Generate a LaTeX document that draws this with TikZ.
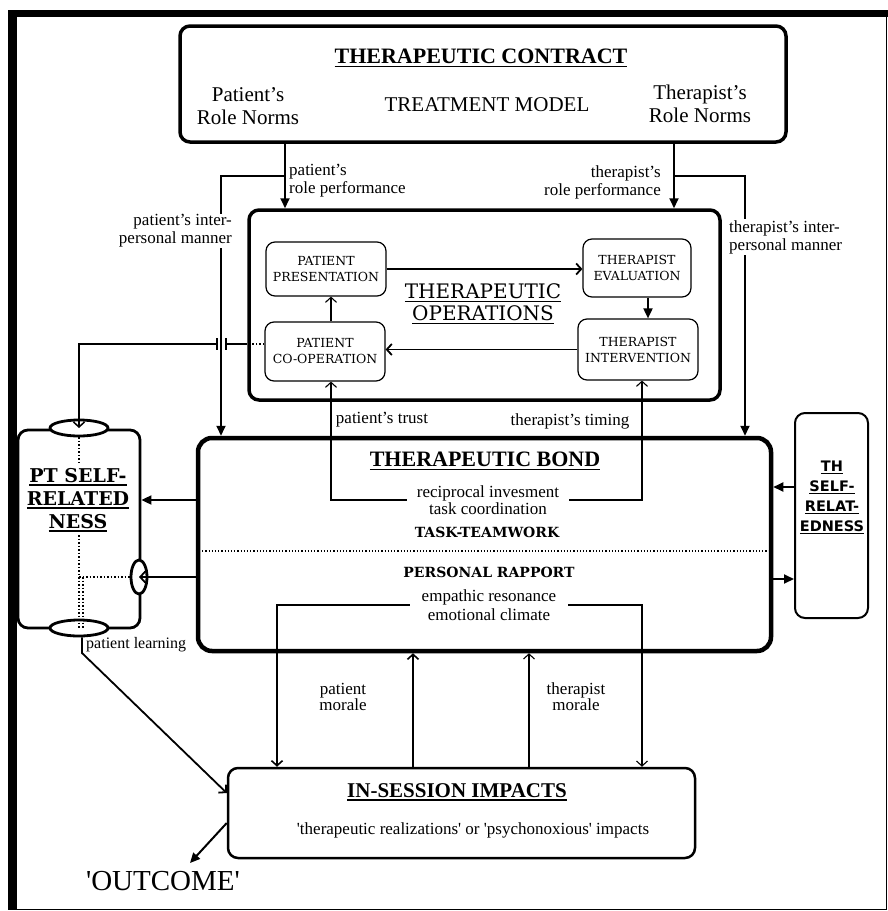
\documentclass[tikz,border=0pt]{standalone}
\usepackage{fontspec}
\setmainfont{Liberation Serif}
\newfontfamily\slab{DejaVu Serif}
\newfontfamily\sansb{DejaVu Sans}
\usetikzlibrary{arrows.meta,shapes.geometric,calc}
\newcommand\ulbar[1]{\setbox0=\hbox{#1}\rlap{\rule[-0.17em]{\wd0}{0.07em}}\box0}
\newcommand\fs[2]{\fontsize{#1}{#2}\selectfont}
\tikzset{
  bigbox/.style={draw, rounded corners=10pt, line width=3.5pt},
  opbox/.style={draw, rounded corners=9pt, line width=1.2pt, align=center, font=\slab\fs{12.5}{16}, inner sep=0pt},
  lab/.style={align=center, font=\fs{17}{18}, inner sep=1pt},
  tri/.style={-{Triangle[length=10pt,width=9pt]}, line width=1.8pt},
  vee/.style={-{Straight Barb[length=5pt,width=11pt]}, line width=1.8pt},
  lite/.style={line width=1.1pt},
  oval/.style={ellipse, draw, fill=white, line width=2.8pt, inner sep=0pt}
}
\begin{document}
\begin{tikzpicture}[x=1pt,y=-1pt]
\useasboundingbox (0,0) rectangle (888,911);
% frame
\fill (8,10) rectangle (888,17);
\fill (8,10) rectangle (17,910);
\draw[line width=1.5pt] (886.5,17) -- (886.5,909.5) -- (17,909.5);

% main boxes
\node[bigbox, minimum width=606, minimum height=116] (contract) at (483,84) {};
\node[bigbox, minimum width=471, minimum height=190] (ops) at (484.5,305) {};
\node[bigbox, line width=4.5pt, rounded corners=14pt, minimum width=573, minimum height=213] (bond) at (484.5,544.5) {};
\node[bigbox, line width=2.5pt, minimum width=467, minimum height=90] (imp) at (461.5,813) {};
\node[bigbox, line width=2.8pt, minimum width=122, minimum height=198] (ptbox) at (79,529) {};
\node[bigbox, line width=2pt, minimum width=73, minimum height=205] (thbox) at (831.5,515.5) {};

% operations
\node[opbox, minimum width=120, minimum height=54] (pres) at (326,269) {PATIENT\\PRESENTATION};
\node[opbox, minimum width=108, minimum height=58] (eval) at (637,268) {THERAPIST\\EVALUATION};
\node[opbox, minimum width=120, minimum height=59] (coop) at (325,351.5) {PATIENT\\CO-OPERATION};
\node[opbox, minimum width=120, minimum height=61] (interv) at (638,349.5) {THERAPIST\\INTERVENTION};

% ovals on PT box
\node[oval, minimum width=58, minimum height=16] (ptop) at (79,428) {};
\node[oval, minimum width=58, minimum height=16] (pbot) at (79,628) {};
\node[oval, minimum width=16, minimum height=34] (pright) at (139,577) {};

% texts
\node[font=\bfseries\fs{22}{26}] (ctitle) at (481,58) {\ulbar{THERAPEUTIC CONTRACT}};
\node[align=center, font=\fs{21}{23}] (pnorm) at (248,106) {Patient's\\Role Norms};
\node[font=\fs{21}{23}] (tmodel) at (487,105) {TREATMENT MODEL};
\node[align=center, font=\fs{21}{23}] (tnorm) at (700,104) {Therapist's\\Role Norms};
\node[align=center, font=\slab\fs{20}{22}] (otitle) at (483,304) {\ulbar{THERAPEUTIC}\\\ulbar{OPERATIONS}};
\node[font=\bfseries\fs{22}{26}] (btitle) at (485,461) {\ulbar{THERAPEUTIC BOND}};
\node[lab, inner xsep=10pt, font=\fs{17}{16.5}] (recip) at (488,500) {reciprocal invesment\\task coordination};
\node[font=\slab\bfseries\fs{14}{16}] (task) at (487,532) {TASK-TEAMWORK};
\node[font=\slab\bfseries\fs{14}{16}] (rapp) at (489,572) {PERSONAL RAPPORT};
\node[lab, inner xsep=12pt, font=\fs{17}{19}] (emp) at (489,605) {empathic resonance\\emotional climate};
\node[font=\bfseries\fs{21}{24}] (ititle) at (457,792) {\ulbar{IN-SESSION IMPACTS}};
\node[font=\fs{17}{20}] (iline) at (473,830) {\textquotesingle therapeutic realizations\textquotesingle{} or \textquotesingle psychonoxious\textquotesingle{} impacts};
\node[font=\fs{29}{32}] (outc) at (163,881) {\textquotesingle OUTCOME\textquotesingle};
\node[align=center, font=\slab\bfseries\fs{19}{23}] (pttext) at (78,500) {\ulbar{PT SELF-}\\\ulbar{RELATED}\\\ulbar{NESS}};
\node[align=center, font=\sansb\bfseries\fs{14.5}{20}] (thtext) at (832,497) {\ulbar{TH}\\\ulbar{SELF-}\\\ulbar{RELAT-}\\\ulbar{EDNESS}};

% helper points
\coordinate (pjoin) at (285,176);
\coordinate (tjoin) at (674,176);
\coordinate (pim) at (221,0);
\coordinate (tim) at (745,0);
\coordinate (ei) at (648,0);
\coordinate (cp) at (331,0);
\coordinate (it) at (642,0);
\coordinate (cl) at (0,344);
\coordinate (gapr) at (226,344);
\coordinate (gapl) at (217,344);
\coordinate (th1) at (0,487);
\coordinate (th2) at (0,579);
\coordinate (dv) at (0,551);
\coordinate (e1) at (277,0);
\coordinate (m1) at (413,0);
\coordinate (m2) at (529,0);
\coordinate (lrn) at (82,653);
\coordinate (il) at (0,793);
\coordinate (oc) at (0,823);
\coordinate (oarr) at (190,863);

% contract to operations and bond
\draw[tri] (contract.south -| pjoin) -- (ops.north -| pjoin);
\draw[tri] (contract.south -| tjoin) -- (ops.north -| tjoin);
\draw[tri] (pjoin) -| (bond.north -| pim);
\draw[tri] (tjoin) -| (bond.north -| tim);

% operations cycle
\draw[vee] (pres.east) -- (pres.east -| eval.west);
\draw[tri] (eval.south -| ei) -- (interv.north -| ei);
\draw[vee] (interv.west) -- (interv.west -| coop.east);
\draw[vee, lite] (coop.north -| cp) -- (pres.south -| cp);

% co-operation to PT self-relatedness
\draw[dotted, line width=1.5pt] (coop.west |- cl) -- (ops.west |- cl);
\draw[line width=1.5pt] (ops.west |- cl) -- (gapr);
\draw[line width=1.5pt] ($(gapr)+(0,-6)$) -- ($(gapr)+(0,6)$);
\draw[line width=1.5pt] ($(gapl)+(0,-6)$) -- ($(gapl)+(0,6)$);
\draw[vee, line width=1.5pt] (gapl) -| (ptop.center);

% bond to operations
\draw[vee, lite] (recip.west) -| (coop.south -| cp);
\draw[vee, lite] (recip.east) -| (interv.south -| it);

% bond to self-relatedness
\draw[tri] (bond.west |- recip) -- (ptbox.east |- recip);
\draw[vee] (bond.west |- pright) -- (pright.center);
\draw[tri] (thbox.west |- th1) -- (bond.east |- th1);
\draw[tri] (bond.east |- th2) -- (thbox.west |- th2);
\draw[dotted, line width=1.2pt] (bond.west |- dv) -- (bond.east |- dv);

% dotted lines in PT box
\draw[dotted, line width=1.5pt] (ptop.south) -- (pttext.north -| ptop.south);
\draw[dotted, line width=1.5pt] (pttext.south -| pbot) -- (pbot.center);
\draw[dotted, line width=1.5pt] (pbot |- pright) -- (pright.west);
\draw[dotted, line width=1.5pt] ($(pbot |- pright)+(4,0)$) -- ($(pbot.center)+(4,0)$);

% bond and impacts
\draw[vee, line width=1.6pt] (emp.west) -| (imp.north -| e1);
\draw[vee, lite] (emp.east) -| (imp.north -| it);
\draw[vee, line width=1.6pt] (imp.north -| m1) -- (bond.south -| m1);
\draw[vee, lite] (imp.north -| m2) -- (bond.south -| m2);
\draw[vee] (pbot.south -| lrn) -- (lrn) -- (imp.west |- il);
\draw[tri, line width=2pt] (imp.west |- oc) -- (oarr);

% labels
\node[lab, anchor=west, align=left] (prp) at (288,181) {patient's\\role performance};
\node[lab, anchor=east, align=right] (trp) at (662,182) {therapist's\\role performance};
\node[lab, anchor=east, align=right, fill=white] (pipm) at (233,231) {patient's inter-\\personal manner};
\node[lab, anchor=west, align=left, fill=white] (tipm) at (728,237) {therapist's inter-\\personal manner};
\node[lab] (trust) at (382,420) {patient's trust};
\node[lab] (timing) at (570,421) {therapist's timing};
\node[lab, font=\fs{17}{16}] (pmor) at (343,697) {patient\\morale};
\node[lab, font=\fs{17}{16}] (tmor) at (576,697) {therapist\\morale};
\node[lab, anchor=west, font=\fs{16}{18}] (plearn) at (85,645) {patient learning};
\end{tikzpicture}
\end{document}
